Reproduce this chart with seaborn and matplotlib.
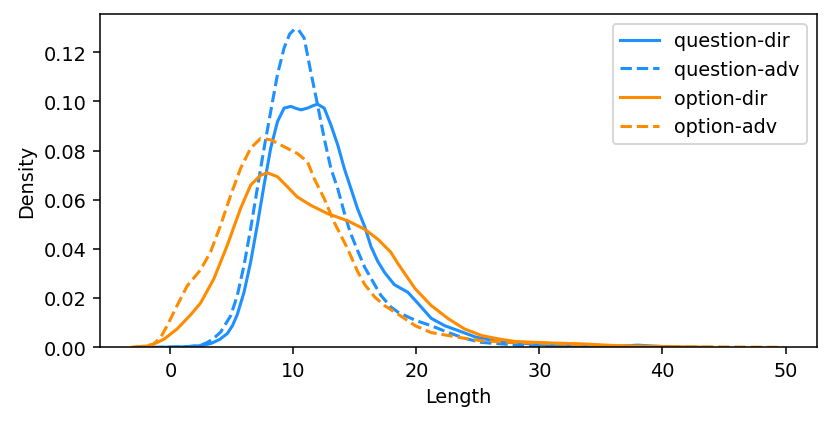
import matplotlib
matplotlib.use("Agg")
import matplotlib.pyplot as plt
import seaborn as sns
import pandas as pd

# Curve points (Length, Density)
qdir_x = [-1.0, 1.0, 2.5, 3.3, 4.0, 4.62, 5.05, 5.43, 5.98, 6.52, 7.06, 7.61, 8.15, 8.7, 9.24,
          9.78, 10.2, 10.6, 11.14, 11.6, 11.96, 12.5, 13.04, 13.6, 14.13, 14.67, 15.2, 15.8, 16.3,
          16.85, 17.4, 18.2, 19.3, 20.1, 21.2, 22.3, 23.4, 24.8, 26.7, 29.4, 32.0, 35.0, 37.0,
          38.0, 39.0, 41.0, 43.0]
qdir_y = [0.0, 0.0002, 0.0007, 0.0016, 0.0032, 0.0056, 0.0089, 0.0133, 0.0224, 0.0347, 0.0497,
          0.066, 0.081, 0.0918, 0.0973, 0.098, 0.0972, 0.0966, 0.0973, 0.0983, 0.0989, 0.0973,
          0.0905, 0.0823, 0.0728, 0.0646, 0.0565, 0.049, 0.041, 0.035, 0.0305, 0.0255, 0.0224,
          0.018, 0.0118, 0.0088, 0.0068, 0.0042, 0.0023, 0.0014, 0.0006, 0.0003, 0.0006, 0.0009,
          0.0006, 0.0001, 0.0]

qadv_x = [-1.5, 0.0, 1.5, 2.45, 3.0, 3.5, 4.08, 4.9, 5.43, 5.98, 6.52, 7.06, 7.61, 8.15, 8.7,
          9.24, 9.7, 10.05, 10.4, 10.87, 11.41, 11.96, 12.5, 13.04, 13.6, 14.13, 14.6, 15.2, 15.8,
          16.6, 17.1, 17.9, 18.5, 19.9, 21.2, 22.6, 23.9, 25.3, 28.0, 31.0, 34.0, 38.0]
qadv_y = [0.0, 0.0001, 0.0003, 0.0008, 0.002, 0.0036, 0.0062, 0.0129, 0.021, 0.0333, 0.0483,
          0.0646, 0.081, 0.0959, 0.111, 0.1218, 0.1275, 0.1292, 0.1292, 0.1258, 0.112, 0.0986,
          0.085, 0.0728, 0.0645, 0.0548, 0.047, 0.0395, 0.0325, 0.0255, 0.0212, 0.0165, 0.0143,
          0.011, 0.0088, 0.006, 0.0037, 0.002, 0.001, 0.0004, 0.0001, 0.0]

odir_x = [-3.1, -1.6, -0.5, 0.54, 1.6, 2.445, 3.53, 4.62, 5.7, 6.52, 7.33, 7.88, 8.7, 9.51, 10.3,
          11.4, 12.77, 14.4, 15.8, 16.85, 17.9, 18.5, 19.9, 21.2, 22.6, 23.9, 25.3, 26.7, 28.0,
          30.8, 33.5, 36.2, 40.0, 44.0]
odir_y = [0.0, 0.0007, 0.0034, 0.0075, 0.013, 0.018, 0.0279, 0.0415, 0.0565, 0.066, 0.07, 0.071,
          0.0694, 0.0653, 0.0612, 0.0578, 0.0544, 0.0515, 0.048, 0.044, 0.0388, 0.034, 0.0238,
          0.017, 0.0116, 0.0075, 0.0048, 0.0034, 0.0024, 0.0018, 0.0014, 0.0007, 0.0002, 0.0]

oadv_x = [-3.1, -2.0, -1.36, -0.8, -0.27, 0.54, 1.36, 2.445, 3.26, 4.08, 4.9, 5.7, 6.52, 7.33,
          8.15, 9.24, 10.3, 11.14, 11.68, 12.5, 13.3, 14.4, 15.2, 15.8, 16.6, 17.4, 18.5, 19.9,
          21.2, 22.6, 23.9, 25.3, 28.0, 30.8, 33.5, 37.0, 42.0, 46.0, 49.9]
oadv_y = [0.0, 0.0005, 0.0014, 0.004, 0.0088, 0.017, 0.025, 0.0315, 0.0388, 0.0497, 0.0619,
          0.0728, 0.081, 0.085, 0.0844, 0.0816, 0.0789, 0.0755, 0.0687, 0.0605, 0.051, 0.0401,
          0.031, 0.0255, 0.0205, 0.017, 0.0135, 0.0088, 0.006, 0.0048, 0.0037, 0.0027, 0.002,
          0.0016, 0.001, 0.0005, 0.0002, 0.0001, 0.0]

labels = ["question-dir", "question-adv", "option-dir", "option-adv"]
colors = ["#1E90FF", "#1E90FF", "#FF8C00", "#FF8C00"]
styles = ["-", "--", "-", "--"]

series = [(qdir_x, qdir_y), (qadv_x, qadv_y), (odir_x, odir_y), (oadv_x, oadv_y)]

fig, ax = plt.subplots(figsize=(6, 3.06), dpi=138.5)
for (xs, ys), lab, c, ls in zip(series, labels, colors, styles):
    df = pd.DataFrame({"Length": xs, "Density": ys})
    sns.lineplot(data=df, x="Length", y="Density", ax=ax, color=c, linestyle=ls,
                 label=lab, linewidth=1.6, sort=False)

ax.set_ylim(0, 0.1355)
ax.set_xlabel("Length")
ax.set_ylabel("Density")
ax.legend(loc="upper right")
fig.subplots_adjust(left=0.120, right=0.983, top=0.9646, bottom=0.1785)
fig.savefig("out.png", dpi=138.5)
